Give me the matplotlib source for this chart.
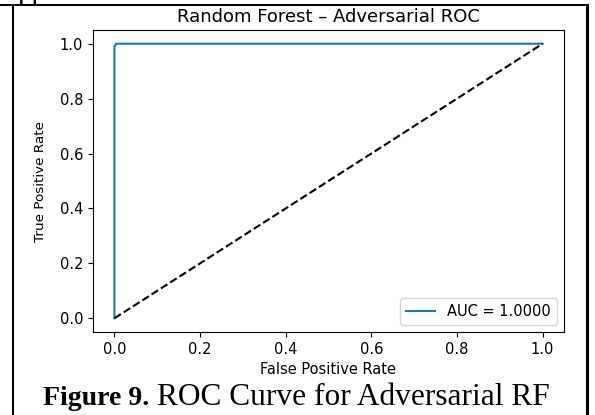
import numpy as np
import matplotlib.pyplot as plt
from matplotlib.lines import Line2D

# ROC data
fpr = [0.0, 0.0, 0.004, 1.0]
tpr = [0.0, 0.99, 1.0, 1.0]
chance = [0.0, 1.0]
auc_value = 1.0000

W, H = 595, 415


def fx(px):
    return px / W


def fy(py):
    return 1 - py / H


fig = plt.figure(figsize=(W / 100, H / 100), dpi=100)
ax = fig.add_axes([fx(93), fy(332), (564 - 93) / W, (332 - 30) / H])

ax.plot(fpr, tpr, color='tab:blue', lw=1.5, label='AUC = %.4f' % auc_value)
ax.plot(chance, chance, 'k--', lw=1.5)
ax.set_xlim(-0.05, 1.05)
ax.set_ylim(-0.05, 1.05)
ax.set_title('Random Forest \u2013 Adversarial ROC', fontsize=13)
ax.set_xlabel('False Positive Rate', fontsize=10.5)
ax.set_ylabel('True Positive Rate', fontsize=9.7, labelpad=9)
ax.tick_params(labelsize=10.5)
ax.legend(loc='lower right', fontsize=10.5)

# frame of the surrounding table cell
fig.add_artist(Line2D([fx(0), fx(588)], [fy(5), fy(5)], transform=fig.transFigure, color='black', lw=1.4))
fig.add_artist(Line2D([fx(13), fx(13)], [fy(5), fy(415)], transform=fig.transFigure, color='black', lw=1.5))
fig.add_artist(Line2D([fx(587), fx(587)], [fy(5), fy(415)], transform=fig.transFigure, color='black', lw=2.2))

# cut off text from the row above
fig.text(fx(18), fy(-1), 'pp', fontsize=21, family='Liberation Serif', va='baseline')

# caption
fig.text(fx(43), fy(405), 'Figure 9.', fontsize=20, family='Liberation Serif', weight='bold', va='baseline')
fig.text(fx(157), fy(405), 'ROC Curve for Adversarial RF', fontsize=22.6, family='Liberation Serif', va='baseline')

fig.savefig('out.png', dpi=100)
